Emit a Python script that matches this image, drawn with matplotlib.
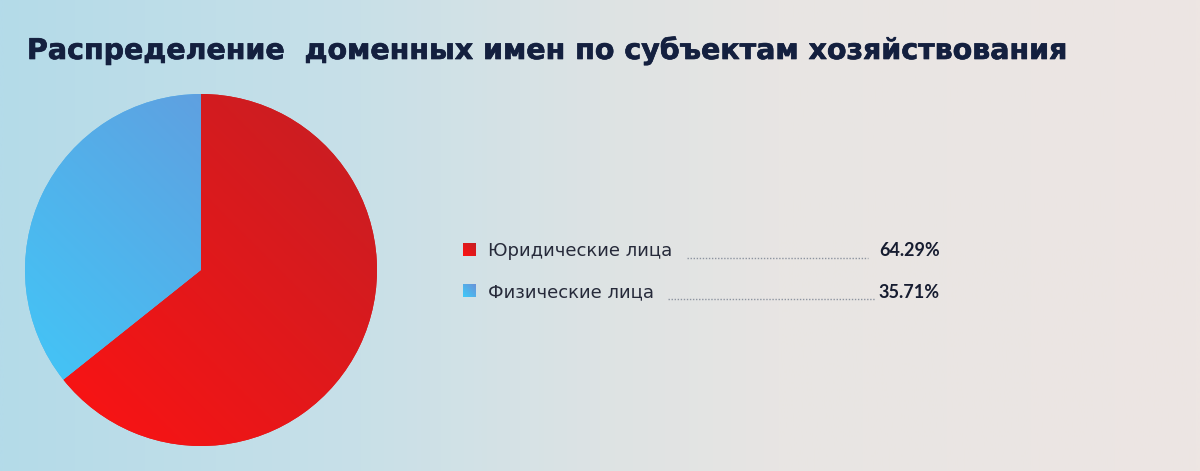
import numpy as np
import matplotlib
matplotlib.use("Agg")
import matplotlib.pyplot as plt
from matplotlib.colors import LinearSegmentedColormap
from matplotlib.patches import Rectangle
import matplotlib.patheffects as pe

title = "Распределение  доменных имен по субъектам хозяйствования"
categories = ["Юридические лица", "Физические лица"]
values = [64.29, 35.71]
value_labels = ["64.29%", "35.71%"]

W, H = 1200, 471
fig = plt.figure(figsize=(12, 4.71), dpi=100)

# background
bg = fig.add_axes([0, 0, 1, 1])
bg.set_xlim(0, W)
bg.set_ylim(H, 0)
bg.axis("off")
bg_cmap = LinearSegmentedColormap.from_list(
    "bg", [(0.0, "#b4dbe9"), (0.3, "#c8e0e8"), (0.5, "#dde3e4"), (0.65, "#e8e5e3"), (1.0, "#ede6e3")])
grad = np.linspace(0, 1, 512).reshape(1, -1)
bg.imshow(grad, cmap=bg_cmap, extent=[0, W, H, 0], aspect="auto", zorder=0)

bg.text(27, 59, title, fontsize=20.5, fontweight="bold", color="#14203f",
        family="DejaVu Sans", va="baseline", ha="left", zorder=3,
        path_effects=[pe.withStroke(linewidth=0.5, foreground="#14203f")])

# pie
cx, cy, r = 201, 270, 176
pax = fig.add_axes([(cx - r) / W, (H - cy - r) / H, 2 * r / W, 2 * r / H])
pax.set_xlim(-1, 1)
pax.set_ylim(-1, 1)
pax.axis("off")
wedges, _ = pax.pie(values, startangle=90, counterclock=False, radius=1,
                    colors=["#e01818", "#50b4ec"], wedgeprops=dict(linewidth=0))

xx, yy = np.meshgrid(np.linspace(0, 1, 300), np.linspace(0, 1, 300))
diag = (xx + yy) / 2  # 0 at bottom-left, 1 at top-right
cmaps = [LinearSegmentedColormap.from_list("r", ["#ff1212", "#c41f24"]),
         LinearSegmentedColormap.from_list("b", ["#3ecbfa", "#6a92d8"])]
for w, cm in zip(wedges, cmaps):
    im = pax.imshow(diag, cmap=cm, extent=[-1, 1, -1, 1], origin="lower", zorder=2)
    im.set_clip_path(w)
pax.set_xlim(-1, 1)
pax.set_ylim(-1, 1)

# legend
sq_y = [250, 291]
dot_start = [687, 668]
dot_end = [868, 875]
sq_cmaps = [LinearSegmentedColormap.from_list("rs", ["#ff1212", "#c41f24"]),
            LinearSegmentedColormap.from_list("bs", ["#3ecbfa", "#6a92d8"])]
for i in range(len(categories)):
    y = sq_y[i]
    rect = Rectangle((463, y - 7), 13, 13, facecolor="none", edgecolor="none")
    bg.add_patch(rect)
    im = bg.imshow(diag[::-1], cmap=sq_cmaps[i], extent=[463, 476, y + 6, y - 7], zorder=3)
    im.set_clip_path(rect)
    bg.text(488, y + 6.5, categories[i], fontsize=13, color="#262a3a",
            family="DejaVu Sans", va="baseline", ha="left")
    bg.plot([dot_start[i], dot_end[i]], [y + 8, y + 8], linestyle=(0, (1, 1.2)),
            color="#8d94a0", linewidth=1.0)
    bg.text(940, y + 6.5, value_labels[i], fontsize=13, fontweight="bold", color="#161c30",
            family="Lato", va="baseline", ha="right")

bg.set_xlim(0, W)
bg.set_ylim(H, 0)
fig.savefig("out.png", dpi=100)
